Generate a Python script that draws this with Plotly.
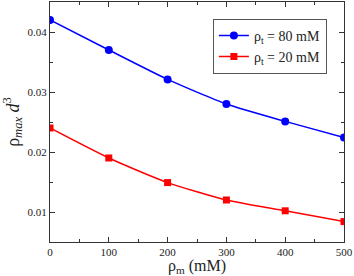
import plotly.graph_objects as go

rho_m = [0, 100, 200, 300, 400, 500]
rho_max_80 = [0.0420, 0.0370, 0.0321, 0.0280, 0.0251, 0.0224]
rho_max_20 = [0.0240, 0.0190, 0.0149, 0.0120, 0.0102, 0.0084]
x_ticks = [0, 100, 200, 300, 400, 500]
y_ticks = [0.01, 0.02, 0.03, 0.04]

FONT = "Liberation Serif, Times New Roman, serif"

fig = go.Figure()
fig.add_trace(go.Scatter(
    x=rho_m, y=rho_max_80, mode="lines+markers",
    name="ρ<sub>t</sub> = 80 mM",
    line=dict(color="#0000ff", width=1.5, shape="spline", smoothing=0.6),
    marker=dict(symbol="circle", size=8, color="#0000ff"),
))
fig.add_trace(go.Scatter(
    x=rho_m, y=rho_max_20, mode="lines+markers",
    name="ρ<sub>t</sub> = 20 mM",
    line=dict(color="#ff0000", width=1.5, shape="spline", smoothing=0.6),
    marker=dict(symbol="square", size=7, color="#ff0000"),
))

axis_common = dict(
    showline=True, linecolor="#333333", linewidth=1, mirror="ticks",
    ticks="inside", ticklen=5, tickcolor="#333333", tickwidth=1,
    showgrid=False, zeroline=False,
    tickfont=dict(family=FONT, size=11, color="#222222"),
)

fig.update_xaxes(
    range=[0, 500], tickvals=x_ticks,
    minor=dict(ticks="inside", ticklen=3, dtick=50, tickcolor="#333333", showgrid=False),
    title=dict(text="ρ<sub>m</sub> (mM)", font=dict(family=FONT, size=16, color="#222222"), standoff=6),
    **axis_common,
)
fig.update_yaxes(
    range=[0.005, 0.045], tickvals=y_ticks, tickformat=".2f",
    minor=dict(ticks="inside", ticklen=3, dtick=0.005, tickcolor="#333333", showgrid=False),
    title=dict(text="ρ<sub><i>max</i></sub><i> d</i><sup>3</sup>", font=dict(family=FONT, size=18, color="#222222"), standoff=6),
    **axis_common,
)

fig.update_layout(
    width=354, height=276,
    margin=dict(l=50, r=10, t=1, b=32),
    paper_bgcolor="white", plot_bgcolor="white",
    legend=dict(
        x=0.554, y=0.93, xanchor="left", yanchor="top",
        bordercolor="#555555", borderwidth=1, bgcolor="white",
        font=dict(family=FONT, size=14, color="#222222"),
        itemwidth=30, tracegroupgap=0,
    ),
)

fig.write_html(
    "out.html",
    config={"displayModeBar": False},
    post_script="document.body.style.margin='0';document.body.style.overflow='hidden';",
)
